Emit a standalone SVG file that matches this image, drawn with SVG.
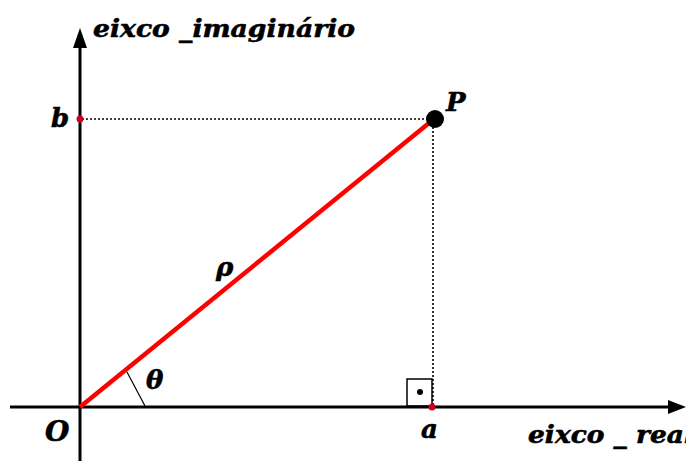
<svg xmlns="http://www.w3.org/2000/svg" width="686" height="461" viewBox="0 0 686 461">
<defs>
<style>
.lbl{font-family:'DejaVu Serif','Liberation Serif',serif;font-weight:bold;font-style:italic;fill:#000;stroke:#000;stroke-width:0.6}
.axis{stroke:#000;stroke-width:3;fill:none}
.dot{stroke:#000;stroke-width:1.6;stroke-dasharray:2,2;fill:none}
</style>
</defs>
<rect width="686" height="461" fill="#fff"/>
<g id="connectors">
<line class="axis" x1="80" y1="461" x2="80" y2="40"/>
<path d="M73,48 L80,28 L87,48 z" fill="#000"/>
<line class="axis" x1="10" y1="407" x2="676" y2="407"/>
<path d="M668,400 L686,407 L668,414 z" fill="#000"/>
<line class="dot" x1="82" y1="119" x2="434" y2="119"/>
<line class="dot" x1="433" y1="119" x2="433" y2="405"/>
<line x1="80" y1="407" x2="434" y2="119" stroke="#ff0000" stroke-width="4.5"/>
<line x1="127" y1="372" x2="145" y2="406" stroke="#000" stroke-width="1.2"/>
<rect x="407" y="379" width="25" height="27" fill="none" stroke="#000" stroke-width="1.5"/>
<circle cx="420" cy="392" r="3" fill="#000"/>
</g>
<g id="P"><circle cx="435" cy="119" r="9" fill="#000"/><text class="lbl" x="446" y="111" font-size="26">P</text></g>
<g id="b"><circle cx="80" cy="119" r="3.5" fill="#cc0022"/><text class="lbl" x="51" y="127" font-size="26">b</text></g>
<g id="a"><circle cx="432" cy="407" r="3.5" fill="#cc0022"/><text class="lbl" x="421" y="438" font-size="26">a</text></g>
<g id="O"><text class="lbl" x="45" y="441" font-size="28">O</text></g>
<g id="theta"><text class="lbl" x="146" y="389" font-size="26">θ</text></g>
<g id="rho"><text class="lbl" x="216" y="276" font-size="26">ρ</text></g>
<g id="yaxis-label"><text class="lbl" x="93" y="37" font-size="25" textLength="262" lengthAdjust="spacingAndGlyphs">eixco _imaginário</text></g>
<g id="xaxis-label"><text class="lbl" x="528" y="443" font-size="25" textLength="166" lengthAdjust="spacingAndGlyphs">eixco _ real</text></g>
</svg>
